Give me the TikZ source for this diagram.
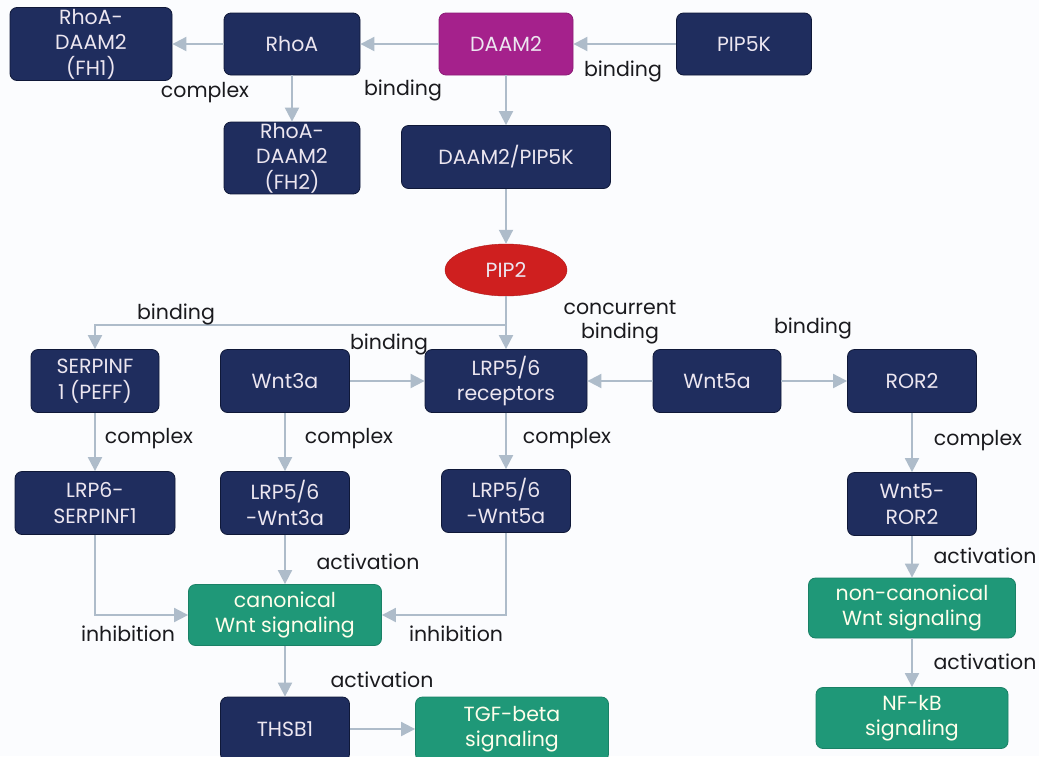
\documentclass[tikz,border=0pt]{standalone}
\usepackage{fontspec}
\setmainfont{Poppins}
\usetikzlibrary{positioning,shapes.geometric,arrows.meta}
\definecolor{ink}     {HTML}{1A1A1E}
\definecolor{navy}    {HTML}{1F2D5E}
\definecolor{navyline}{HTML}{0F1838}
\definecolor{plum}    {HTML}{A5218C}
\definecolor{scarlet} {HTML}{CF1F1F}
\definecolor{sigteal} {HTML}{1F9878}
\definecolor{wire}    {HTML}{AEBCCA}
\definecolor{paper}   {HTML}{FBFCFE}
\definecolor{boxtext} {HTML}{ECE6F0}
\tikzset{
  % --- nodes
  mod/.style   = {rounded corners=7pt, draw=navyline, fill=navy, text=boxtext, align=center,
                  inner sep=1pt, line width=0.8pt, font=\fontsize{20.5}{25.5}\selectfont},
  hub/.style   = {mod, draw=plum!85!black, fill=plum},
  sig/.style   = {mod, draw=sigteal!85!black, fill=sigteal, text=white!92!yellow},
  lipid/.style = {ellipse, draw=scarlet!85!black, fill=scarlet, text=boxtext, inner sep=0pt,
                  font=\fontsize{20.5}{25.5}\selectfont},
  lbl/.style   = {font=\fontsize{20.5}{24}\selectfont, text=ink, align=center, inner sep=1pt},
  % --- edges
  e/.style     = {-{Triangle[length=14pt,width=14pt]}, line width=1.9pt, draw=wire},
}

\begin{document}
\begin{tikzpicture}[x=1pt,y=-1pt]
  \fill[paper] (0,0) rectangle (1039,756);
  \clip (0,0) rectangle (1039,756);

  % top row
  \node (fhone) [mod, minimum width=162pt, minimum height=73pt] at (91,44) {RhoA-\\DAAM2\\(FH1)};
  \node (rhoa)  [mod, minimum width=136pt, minimum height=62pt] at (292,44) {RhoA};
  \node (daam)  [hub, minimum width=134pt, minimum height=62pt] at (506,44) {DAAM2};
  \node (pipk)  [mod, minimum width=135pt, minimum height=62pt] at (744,44) {PIP5K};
  \node (fhtwo) [mod, minimum width=136pt, minimum height=70pt] at (292,158) {RhoA-\\DAAM2\\(FH2)};
  \node (dpk)   [mod, minimum width=209pt, minimum height=63pt] at (506,157) {DAAM2/PIP5K};
  \node (pip)   [lipid, minimum width=122pt, minimum height=52pt] at (506,270) {PIP2};

  % receptor row
  \node (serp)  [mod, minimum width=128pt, minimum height=63pt] at (95,381) {SERPINF\\1 (PEFF)};
  \node (wtha)  [mod, minimum width=129pt, minimum height=63pt] at (285,381) {Wnt3a};
  \node (lrp)   [mod, minimum width=162pt, minimum height=63pt] at (506,381) {LRP5/6\\receptors};
  \node (wfa)   [mod, minimum width=128pt, minimum height=63pt] at (717,381) {Wnt5a};
  \node (ror)   [mod, minimum width=129pt, minimum height=63pt] at (912,381) {ROR2};

  % complexes
  \node (lsp)   [mod, minimum width=160pt, minimum height=63pt] at (95,503) {LRP6-\\SERPINF1};
  \node (lwth)  [mod, minimum width=129pt, minimum height=63pt] at (285,503) {LRP5/6\\-Wnt3a};
  \node (lwfi)  [mod, minimum width=129pt, minimum height=63pt] at (506,501) {LRP5/6\\-Wnt5a};
  \node (wror)  [mod, minimum width=129pt, minimum height=63pt] at (912,504) {Wnt5-\\ROR2};

  % signaling
  \node (canon) [sig, minimum width=193pt, minimum height=61pt] at (285,615) {canonical\\Wnt signaling};
  \node (ncan)  [sig, minimum width=207pt, minimum height=60pt] at (912,608) {non-canonical\\Wnt signaling};
  \node (thsb)  [mod, minimum width=129pt, minimum height=64pt] at (285,729) {THSB1};
  \node (tgf)   [sig, minimum width=193pt, minimum height=64pt] at (512,729) {TGF-beta\\signaling};
  \node (nfkb)  [sig, minimum width=192pt, minimum height=61pt] at (912,718) {NF-kB\\signaling};

  \coordinate (fork) at (506,325);

  \draw[e] (rhoa) -- (fhone);
  \draw[e] (daam) -- (rhoa);
  \draw[e] (pipk) -- (daam);
  \draw[e] (rhoa) -- (fhtwo);
  \draw[e] (daam) -- (dpk);
  \draw[e] (dpk) -- (pip);
  \draw[e] (pip) -- (lrp);
  \draw[e] (fork) -| (serp);
  \draw[e] (wtha) -- (lrp);
  \draw[e] (wfa) -- (lrp);
  \draw[e] (wfa) -- (ror);
  \draw[e] (serp) -- (lsp);
  \draw[e] (wtha) -- (lwth);
  \draw[e] (lrp) -- (lwfi);
  \draw[e] (ror) -- (wror);
  \draw[e] (lwth) -- (canon);
  \draw[e] (lsp) |- (canon);
  \draw[e] (lwfi) |- (canon);
  \draw[e] (wror) -- (ncan);
  \draw[e] (ncan) -- (nfkb);
  \draw[e] (canon) -- (thsb);
  \draw[e] (thsb) -- (tgf);

  % edge labels
  \node (l1)  [lbl] at (623,71)  {binding};
  \node (l2)  [lbl] at (205,93)  {complex};
  \node (l3)  [lbl] at (403,90)  {binding};
  \node (l4)  [lbl] at (176,314) {binding};
  \node (l5)  [lbl] at (389,344) {binding};
  \node (l6)  [lbl] at (620,322) {concurrent\\binding};
  \node (l7)  [lbl] at (813,328) {binding};
  \node (l8)  [lbl] at (149,439) {complex};
  \node (l9)  [lbl] at (349,439) {complex};
  \node (l10) [lbl] at (567,439) {complex};
  \node (l11) [lbl] at (978,441) {complex};
  \node (l12) [lbl] at (368,562) {activation};
  \node (l13) [lbl] at (985,556) {activation};
  \node (l14) [lbl] at (985,662) {activation};
  \node (l15) [lbl] at (382,680) {activation};
  \node (l16) [lbl] at (128,634) {inhibition};
  \node (l17) [lbl] at (456,634) {inhibition};
\end{tikzpicture}
\end{document}
